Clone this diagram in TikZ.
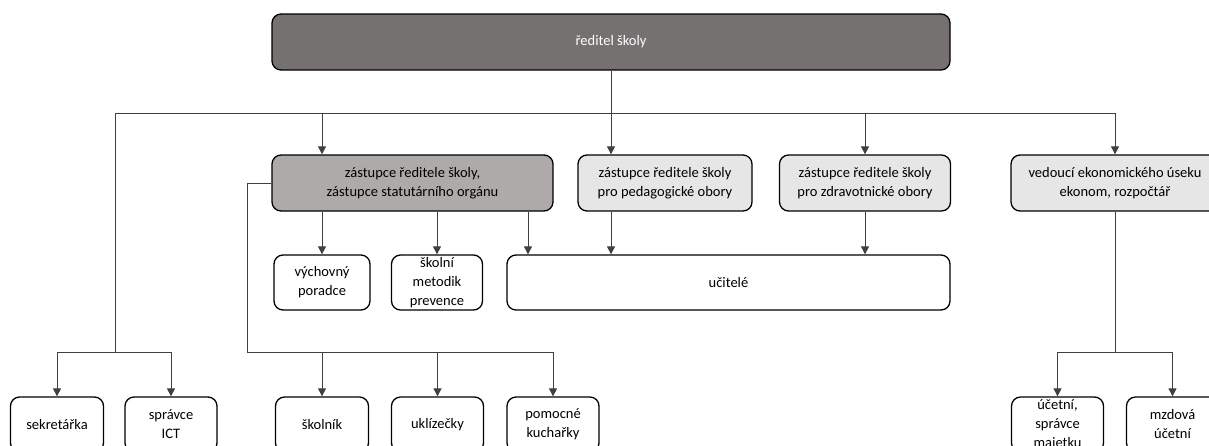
\documentclass[tikz,border=0pt]{standalone}
\usepackage{fontspec}
\setmainfont{Carlito}
\usetikzlibrary{arrows.meta}
\definecolor{topfill}{HTML}{767171}
\definecolor{midfill}{HTML}{AEAAAA}
\definecolor{lightfill}{HTML}{E7E6E6}
\definecolor{linec}{HTML}{404040}
\tikzset{
  box/.style={draw=black, line width=1.3pt, rounded corners=9pt, fill=white, align=center,
    inner sep=0pt, font=\fontsize{14.5}{19}\selectfont, text=black},
  conn/.style={draw=linec, line width=1pt},
  arr/.style={conn, -{Triangle[length=8pt,width=8pt]}},
}
\begin{document}
\begin{tikzpicture}[x=1pt,y=-1pt]
\useasboundingbox (0,0) rectangle (1209,445);
\clip (0,0) rectangle (1209,445);
% nodes
\node[box, fill=topfill, text=white, minimum width=678pt, minimum height=56pt] (top) at (611,42) {ředitel školy};
\node[box, fill=midfill, minimum width=281pt, minimum height=56pt] (zast) at (412.5,183) {zástupce ředitele školy,\\zástupce statutárního orgánu};
\node[box, fill=lightfill, minimum width=174pt, minimum height=56pt] (ped) at (665,183) {zástupce ředitele školy\\pro pedagogické obory};
\node[box, fill=lightfill, minimum width=171pt, minimum height=56pt] (zdr) at (865,183) {zástupce ředitele školy\\pro zdravotnické obory};
\node[box, fill=lightfill, minimum width=208pt, minimum height=56pt] (ved) at (1115,183) {vedoucí ekonomického úseku\\ekonom, rozpočtář};
\node[box, minimum width=96pt, minimum height=55pt] (vych) at (322,282.5) {výchovný\\poradce};
\node[box, minimum width=91pt, minimum height=55pt] (skm) at (437,282.5) {školní\\metodik\\prevence};
\node[box, minimum width=443pt, minimum height=55pt] (uc) at (728.5,282.5) {učitelé};
\node[box, minimum width=93pt, minimum height=55pt] (sekr) at (57,424.5) {sekretářka};
\node[box, minimum width=92pt, minimum height=55pt] (ict) at (171,424.5) {správce\\ICT};
\node[box, minimum width=93pt, minimum height=55pt] (skolnik) at (322,424.5) {školník};
\node[box, minimum width=92pt, minimum height=55pt] (ukl) at (437.5,424.5) {uklízečky};
\node[box, minimum width=92pt, minimum height=55pt] (kuch) at (553,424.5) {pomocné\\kuchařky};
\node[box, minimum width=92pt, minimum height=55pt] (uce) at (1057.5,424.5) {účetní,\\správce\\majetku};
\node[box, minimum width=92pt, minimum height=55pt] (mzd) at (1172.5,424.5) {mzdová\\účetní};
% bus coordinates
\coordinate (bL) at (115,113);
\coordinate (bR) at (1115,113);
\coordinate (lb) at (115,352);
\coordinate (zl) at (247,352);
% top level
\draw[conn] (top.south) -- (top.south |- bL);
\draw[conn] (bL) -- (bR);
\draw[arr] (bL -| vych.north) -- (vych.north |- zast.north);
\draw[arr] (bL -| top.south) -- (top.south |- ped.north);
\draw[arr] (bL -| zdr.north) -- (zdr.north);
\draw[arr] (bR) -- (ved.north);
% left branch
\draw[conn] (bL) -- (lb);
\draw[conn] (sekr.north |- lb) -- (ict.north |- lb);
\draw[arr] (sekr.north |- lb) -- (sekr.north);
\draw[arr] (ict.north |- lb) -- (ict.north);
% zastupce branch
\draw[conn] (zast.west) -| (zl) -- (kuch.north |- zl);
\draw[arr] (skolnik.north |- zl) -- (skolnik.north);
\draw[arr] (ukl.north |- zl) -- (ukl.north);
\draw[arr] (kuch.north |- zl) -- (kuch.north);
\draw[arr] (zast.south -| vych.north) -- (vych.north);
\draw[arr] (zast.south -| skm.north) -- (skm.north);
\draw[arr] ([xshift=115.5pt]zast.south) -- ([xshift=115.5pt]zast.south |- uc.north);
\draw[arr] (ped.south -| top.south) -- (top.south |- uc.north);
\draw[arr] (zdr.south) -- (zdr.south |- uc.north);
% economic branch
\draw[conn] (ved.south) -- (ved.south |- lb);
\draw[conn] (uce.north |- lb) -- (mzd.north |- lb);
\draw[arr] (uce.north |- lb) -- (uce.north);
\draw[arr] (mzd.north |- lb) -- (mzd.north);
\end{tikzpicture}
\end{document}
